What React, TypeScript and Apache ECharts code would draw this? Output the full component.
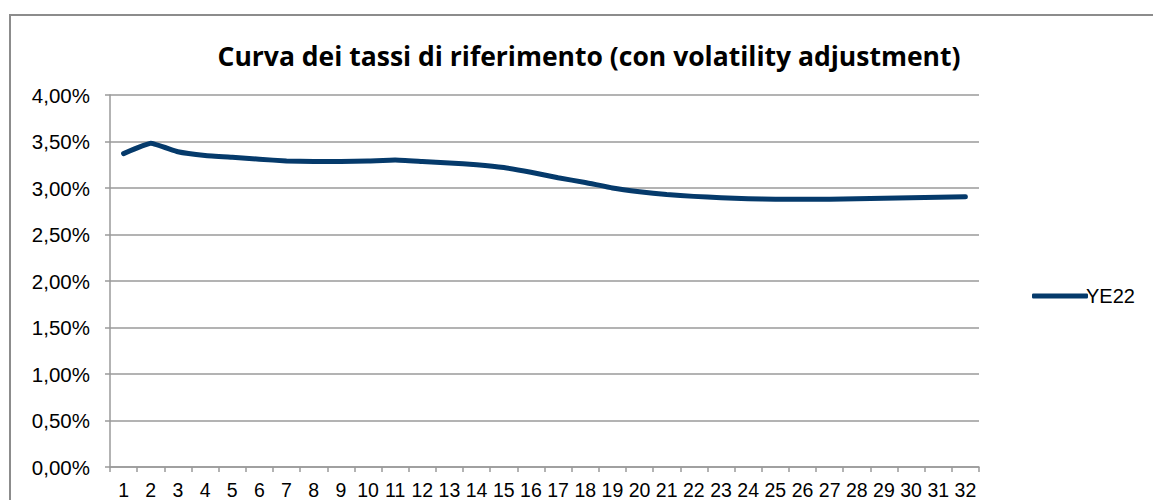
import React, { useEffect, useRef } from "react";
import * as echarts from "echarts";

const categories: string[] = Array.from({ length: 32 }, (_, i) => String(i + 1));
const seriesName = "YE22";
const values: number[] = [
  3.37, 3.48, 3.39, 3.35, 3.33, 3.31, 3.29, 3.285, 3.285, 3.29,
  3.30, 3.285, 3.27, 3.25, 3.22, 3.17, 3.11, 3.06, 3.00, 2.96,
  2.93, 2.91, 2.895, 2.885, 2.88, 2.88, 2.88, 2.885, 2.89, 2.895,
  2.90, 2.905,
];
const yMax = 4;
const yInterval = 0.5;
const titleText = "Curva dei tassi di riferimento (con volatility adjustment)";

export default function App() {
  const ref = useRef<HTMLDivElement>(null);
  useEffect(() => {
    if (!ref.current) return;
    const chart = echarts.init(ref.current, null, { renderer: "svg" });
    const lineColor = "#053a6b";
    const gray = "#9a9a9a";
    chart.setOption({
      animation: false,
      backgroundColor: "#ffffff",
      title: {
        text: titleText,
        left: 584,
        top: 37,
        textAlign: "center",
        textStyle: {
          fontFamily: "Open Sans",
          fontWeight: "bold",
          fontSize: 26.5,
          color: "#000",
        },
      },
      legend: {
        left: 1027,
        top: 281,
        orient: "vertical",
        itemWidth: 56,
        itemHeight: 5,
        itemGap: 0,
        icon: "roundRect",
        data: [{ name: seriesName, itemStyle: { color: lineColor } }],
        textStyle: {
          fontFamily: "Liberation Sans",
          fontSize: 20,
          color: "#000",
          padding: [0, 0, 0, -7],
        },
      },
      grid: { left: 110, right: 174, top: 95, bottom: 33, containLabel: false },
      xAxis: {
        type: "category",
        data: categories,
        boundaryGap: true,
        axisLine: { show: true, lineStyle: { color: gray, width: 1.5 } },
        axisTick: { show: true, length: 5, alignWithLabel: false, lineStyle: { color: gray, width: 1.5 } },
        axisLabel: {
          interval: 0,
          fontFamily: "Liberation Sans",
          fontSize: 19.5,
          color: "#000",
          margin: 13,
        },
        splitLine: { show: false },
      },
      yAxis: {
        type: "value",
        min: 0,
        max: yMax,
        interval: yInterval,
        axisLine: { show: true, lineStyle: { color: gray, width: 1.5 } },
        axisTick: { show: true, length: 5, lineStyle: { color: gray, width: 1.5 } },
        axisLabel: {
          fontFamily: "Liberation Sans",
          fontSize: 20.5,
          color: "#000",
          margin: 20,
          formatter: (v: number) => v.toFixed(2).replace(".", ",") + "%",
        },
        splitLine: { show: true, lineStyle: { color: gray, width: 1.5 } },
      },
      series: [
        {
          name: seriesName,
          type: "line",
          data: values,
          smooth: 0.1,
          symbol: "none",
          lineStyle: { color: lineColor, width: 5, cap: "round", join: "round" },
          itemStyle: { color: lineColor },
        },
      ],
      graphic: [
        {
          type: "rect",
          shape: { x: 10, y: 15, width: 1300, height: 700 },
          style: { fill: "none", stroke: "#8c8c8c", lineWidth: 2 },
          silent: true,
        },
      ],
    });
    return () => chart.dispose();
  }, []);
  return (
    <div
      ref={ref}
      style={{ position: "fixed", left: 0, top: 0, width: 1153, height: 500, background: "#fff" }}
    />
  );
}
